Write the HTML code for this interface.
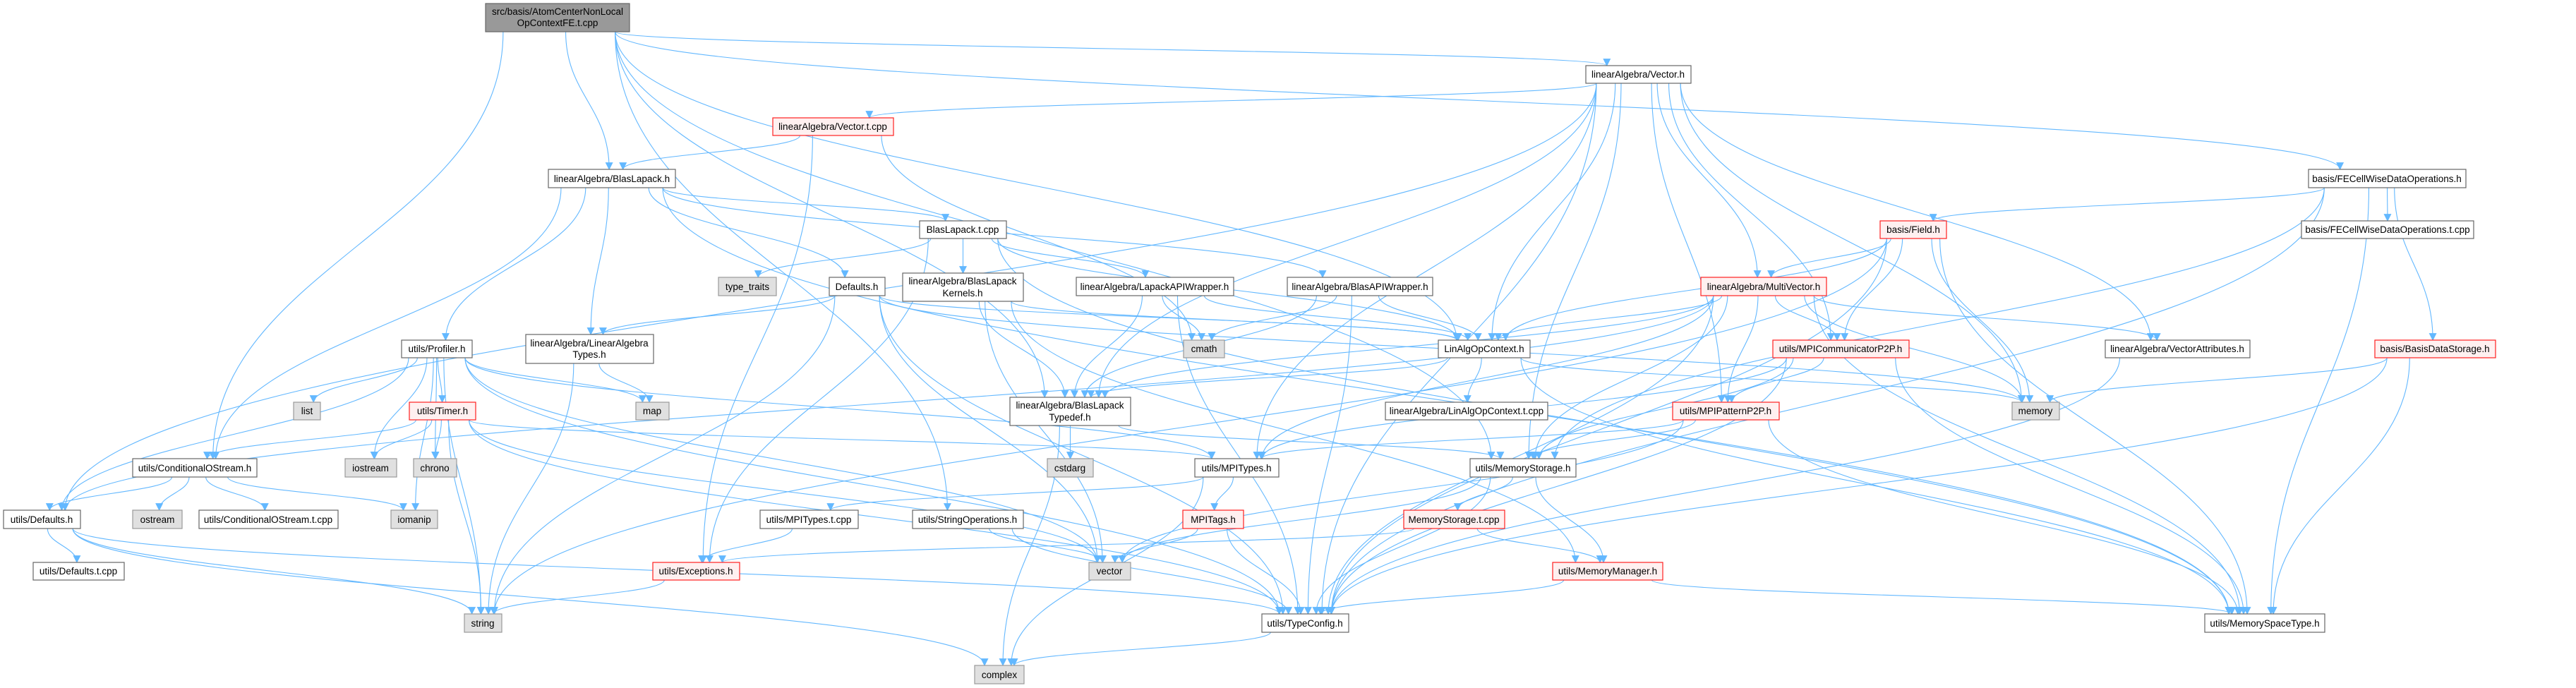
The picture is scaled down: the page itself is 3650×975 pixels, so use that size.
<!DOCTYPE html>
<html><head><meta charset="utf-8"><style>
html,body{margin:0;padding:0;background:#fff;}
svg{display:block;}
text{font-family:"Liberation Sans",Arial,sans-serif;font-size:13.5px;fill:#000;text-anchor:middle;}
.w{fill:#fff;stroke:#666;stroke-width:1.2;}
.r{fill:#fff0f0;stroke:#ff2020;stroke-width:1.2;}
.g{fill:#e0e0e0;stroke:#999;stroke-width:1.2;}
.k{fill:#999;stroke:#666;stroke-width:1.2;}
.e{fill:none;stroke:#63b8ff;stroke-width:1.1;}
</style></head><body>
<svg id="s" width="3650" height="975" viewBox="0 0 3650 975" xmlns="http://www.w3.org/2000/svg">
<defs><marker id="a" viewBox="0 0 10 10" refX="9" refY="5" markerWidth="11" markerHeight="11" markerUnits="userSpaceOnUse" orient="auto"><path d="M0,0 L10,5 L0,10 z" fill="#63b8ff"/></marker></defs>
<g id="edges"></g>
<g id="nodes">
<rect id="root" class="k" x="688" y="5" width="204" height="40"/><text x="790" y="21">src/basis/AtomCenterNonLocal</text><text x="790" y="37">OpContextFE.t.cpp</text>
<rect id="vec" class="w" x="2247" y="93" width="149" height="25"/><text x="2321" y="110">linearAlgebra/Vector.h</text>
<rect id="vtc" class="r" x="1095" y="167" width="171" height="25"/><text x="1180" y="184">linearAlgebra/Vector.t.cpp</text>
<rect id="bl" class="w" x="777" y="240" width="180" height="26"/><text x="867" y="258">linearAlgebra/BlasLapack.h</text>
<rect id="fecw" class="w" x="3271" y="240" width="223" height="26"/><text x="3382" y="258">basis/FECellWiseDataOperations.h</text>
<rect id="bltc" class="w" x="1303" y="313" width="123" height="25"/><text x="1364" y="330">BlasLapack.t.cpp</text>
<rect id="field" class="r" x="2664" y="313" width="94" height="25"/><text x="2711" y="330">basis/Field.h</text>
<rect id="fecwt" class="w" x="3261" y="313" width="244" height="25"/><text x="3383" y="330">basis/FECellWiseDataOperations.t.cpp</text>
<rect id="tt" class="g" x="1018" y="393" width="82" height="26"/><text x="1059" y="411">type_traits</text>
<rect id="ldef" class="w" x="1175" y="393" width="79" height="26"/><text x="1214" y="411">Defaults.h</text>
<rect id="blk" class="w" x="1279" y="387" width="171" height="40"/><text x="1364" y="403">linearAlgebra/BlasLapack</text><text x="1364" y="420">Kernels.h</text>
<rect id="lapw" class="w" x="1525" y="393" width="223" height="26"/><text x="1636" y="411">linearAlgebra/LapackAPIWrapper.h</text>
<rect id="blaw" class="w" x="1824" y="393" width="206" height="26"/><text x="1927" y="411">linearAlgebra/BlasAPIWrapper.h</text>
<rect id="mv" class="r" x="2410" y="393" width="178" height="26"/><text x="2499" y="411">linearAlgebra/MultiVector.h</text>
<rect id="prof" class="w" x="569" y="482" width="100" height="25"/><text x="619" y="499">utils/Profiler.h</text>
<rect id="lat" class="w" x="745" y="474" width="181" height="41"/><text x="835" y="491">linearAlgebra/LinearAlgebra</text><text x="835" y="507">Types.h</text>
<rect id="cmath" class="g" x="1677" y="482" width="58" height="25"/><text x="1706" y="499">cmath</text>
<rect id="lao" class="w" x="2038" y="482" width="130" height="25"/><text x="2103" y="499">LinAlgOpContext.h</text>
<rect id="comm" class="r" x="2512" y="482" width="193" height="25"/><text x="2608" y="499">utils/MPICommunicatorP2P.h</text>
<rect id="va" class="w" x="2983" y="482" width="205" height="25"/><text x="3085" y="499">linearAlgebra/VectorAttributes.h</text>
<rect id="bds" class="r" x="3365" y="482" width="171" height="25"/><text x="3450" y="499">basis/BasisDataStorage.h</text>
<rect id="list" class="g" x="416" y="570" width="38" height="25"/><text x="435" y="587">list</text>
<rect id="timer" class="r" x="580" y="570" width="94" height="25"/><text x="627" y="587">utils/Timer.h</text>
<rect id="map" class="g" x="901" y="570" width="47" height="25"/><text x="924" y="587">map</text>
<rect id="blt" class="w" x="1431" y="563" width="171" height="40"/><text x="1516" y="579">linearAlgebra/BlasLapack</text><text x="1516" y="596">Typedef.h</text>
<rect id="laot" class="w" x="1963" y="570" width="230" height="25"/><text x="2078" y="587">linearAlgebra/LinAlgOpContext.t.cpp</text>
<rect id="pat" class="r" x="2370" y="570" width="151" height="25"/><text x="2445" y="587">utils/MPIPatternP2P.h</text>
<rect id="memory" class="g" x="2851" y="570" width="67" height="25"/><text x="2884" y="587">memory</text>
<rect id="cos" class="w" x="188" y="650" width="176" height="26"/><text x="276" y="668">utils/ConditionalOStream.h</text>
<rect id="iostream" class="g" x="489" y="650" width="73" height="26"/><text x="525" y="668">iostream</text>
<rect id="chrono" class="g" x="586" y="650" width="61" height="26"/><text x="616" y="668">chrono</text>
<rect id="cstdarg" class="g" x="1484" y="650" width="65" height="26"/><text x="1516" y="668">cstdarg</text>
<rect id="mpit" class="w" x="1693" y="650" width="119" height="26"/><text x="1752" y="668">utils/MPITypes.h</text>
<rect id="ms" class="w" x="2083" y="650" width="150" height="26"/><text x="2158" y="668">utils/MemoryStorage.h</text>
<rect id="udef" class="w" x="5" y="723" width="109" height="26"/><text x="59" y="741">utils/Defaults.h</text>
<rect id="ostream" class="g" x="188" y="723" width="70" height="26"/><text x="223" y="741">ostream</text>
<rect id="cost" class="w" x="282" y="723" width="197" height="26"/><text x="380" y="741">utils/ConditionalOStream.t.cpp</text>
<rect id="iomanip" class="g" x="554" y="723" width="66" height="26"/><text x="587" y="741">iomanip</text>
<rect id="mpitt" class="w" x="1077" y="723" width="139" height="26"/><text x="1146" y="741">utils/MPITypes.t.cpp</text>
<rect id="so" class="w" x="1293" y="723" width="157" height="26"/><text x="1371" y="741">utils/StringOperations.h</text>
<rect id="tags" class="r" x="1676" y="723" width="86" height="26"/><text x="1719" y="741">MPITags.h</text>
<rect id="mst" class="r" x="1989" y="723" width="143" height="26"/><text x="2060" y="741">MemoryStorage.t.cpp</text>
<rect id="udt" class="w" x="47" y="797" width="129" height="25"/><text x="111" y="814">utils/Defaults.t.cpp</text>
<rect id="exc" class="r" x="925" y="797" width="123" height="25"/><text x="986" y="814">utils/Exceptions.h</text>
<rect id="vector" class="g" x="1543" y="797" width="59" height="25"/><text x="1572" y="814">vector</text>
<rect id="mm" class="r" x="2200" y="797" width="156" height="25"/><text x="2278" y="814">utils/MemoryManager.h</text>
<rect id="string" class="g" x="658" y="870" width="53" height="26"/><text x="684" y="888">string</text>
<rect id="tc" class="w" x="1788" y="870" width="123" height="26"/><text x="1849" y="888">utils/TypeConfig.h</text>
<rect id="mst2" class="w" x="3124" y="870" width="170" height="26"/><text x="3209" y="888">utils/MemorySpaceType.h</text>
<rect id="complex" class="g" x="1381" y="943" width="70" height="26"/><text x="1416" y="961">complex</text>
</g>
</svg>
<script>
var E={
root:"vec bl cos so blt lao fecw ms",
vec:"vtc udef blt mpit lao ms mv comm pat memory tc va",
vtc:"bl exc cmath",
bl:"cos prof lat ldef bltc blaw mst2",
bltc:"tt blk lapw exc mst2 lao",
ldef:"lat string lao tc vector memory",
blk:"blt vector lao mm",
lapw:"blt cmath tc lao",
blaw:"cmath blt lao tc",
lao:"laot blt memory mst2",
blt:"cstdarg complex ms",
prof:"list timer map iostream chrono iomanip string tc mpit vector udef",
lat:"map string",
timer:"cos iostream chrono string mpit tc vector",
cos:"udef ostream cost iomanip",
udef:"udt string complex tc",
mpitt:"exc",exc:"string",
mpit:"mpitt tags complex",
tags:"vector tc",so:"vector tc",
ms:"mst vector mm tc",
mst:"exc mm",mm:"tc mst2",tc:"complex",
mv:"lao blt comm pat memory va ms tc udef mpit mst2",
comm:"pat mpit ms tc mst2",
pat:"mpit ms vector mst2",
va:"tc",
fecw:"field fecwt bds mst2 tc ms",
field:"mv comm memory mst2 lao string tc",
bds:"memory tc mst2"};
function B(id){var r=document.getElementById(id);var x=+r.getAttribute('x'),y=+r.getAttribute('y'),w=+r.getAttribute('width'),h=+r.getAttribute('height');return{x:x,y:y,w:w,h:h,cx:x+w/2,cy:y+h/2};}
var g=document.getElementById('edges'),out='';
for(var s in E){E[s].split(' ').forEach(function(t){var a=B(s),b=B(t),d;
if(b.y>a.y+a.h-2){var dx=b.cx-a.cx;var sx=a.cx+Math.max(-a.w*0.4,Math.min(a.w*0.4,dx*0.15));var ex=b.cx-Math.max(-b.w*0.3,Math.min(b.w*0.3,dx*0.05));var sy=a.y+a.h,ey=b.y;var m=(ey-sy)*0.45;
d='M'+sx+','+sy+' C'+sx+','+(sy+m)+' '+ex+','+(ey-m)+' '+ex+','+ey;}
else{var right=b.cx>a.cx;var sx=right?a.x+a.w:a.x,ex=right?b.x:b.x+b.w;var sy=a.cy,ey=b.cy;var m=(ex-sx)*0.4;
d='M'+sx+','+sy+' C'+(sx+m)+','+sy+' '+(ex-m)+','+ey+' '+ex+','+ey;}
out+='<path class="e" marker-end="url(#a)" d="'+d+'"/>';});}
g.innerHTML=out;
</script>
</body></html>
